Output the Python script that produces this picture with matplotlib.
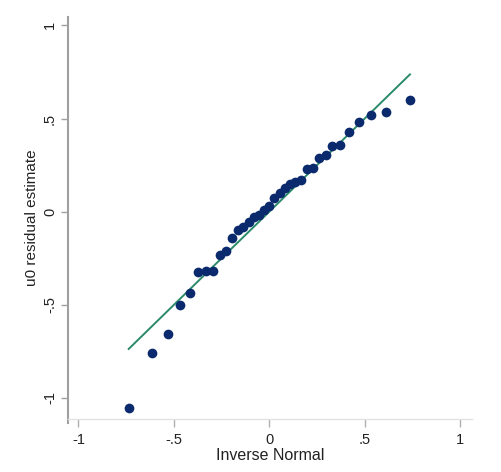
import matplotlib
matplotlib.use('Agg')
from matplotlib import pyplot as plt

# inverse normal (x) and sorted u0 residual estimates (y)
inv_normal = [-0.737, -0.613, -0.532, -0.470, -0.418, -0.372, -0.331, -0.295,
              -0.259, -0.227, -0.196, -0.166, -0.137, -0.109, -0.081, -0.054,
              -0.027, 0.0, 0.027, 0.054, 0.081, 0.109, 0.137, 0.166, 0.196,
              0.227, 0.259, 0.295, 0.331, 0.372, 0.418, 0.470, 0.532, 0.613,
              0.737]
u0_resid = [-1.052, -0.758, -0.656, -0.501, -0.436, -0.324, -0.317, -0.318,
            -0.232, -0.211, -0.141, -0.098, -0.080, -0.055, -0.027, -0.018,
            0.009, 0.031, 0.074, 0.099, 0.127, 0.149, 0.159, 0.170, 0.229,
            0.235, 0.287, 0.304, 0.350, 0.358, 0.426, 0.483, 0.519, 0.537,
            0.600]

ticks = [-1, -0.5, 0, 0.5, 1]
tick_labels = ['-1', '-.5', '0', '.5', '1']

plt.rcParams['font.family'] = ['Liberation Sans', 'DejaVu Sans']


def report():
    fig = plt.figure(figsize=(5.01, 4.72), dpi=100)
    ax = fig.add_axes([68 / 501, 53 / 472, 404 / 501, 402 / 472])

    ax.plot(inv_normal, u0_resid, 'o', color='#0b2a6e', markersize=7,
            markeredgewidth=0, zorder=3)
    # reference line: inverse normal against itself
    ax.plot([inv_normal[0], inv_normal[-1]], [inv_normal[0], inv_normal[-1]],
            color='#2a8a6a', linewidth=1.4, zorder=2)

    ax.set_xlim(-1.055, 1.062)
    ax.set_ylim(-1.113, 1.045)

    ax.set_xticks(ticks)
    ax.set_xticklabels(tick_labels, fontsize=10.5, color='#222222')
    ax.set_yticks(ticks)
    ax.set_yticklabels(tick_labels, fontsize=10.5, color='#222222',
                       rotation=90, va='center')

    for side in ['top', 'right']:
        ax.spines[side].set_visible(False)
    ax.spines['left'].set_color('#a0a0a0')
    ax.spines['left'].set_linewidth(1.5)
    ax.spines['left'].set_bounds(-1.135, 1.045)
    ax.spines['bottom'].set_color('#e2e2e2')
    ax.spines['bottom'].set_linewidth(1.0)

    ax.tick_params(axis='y', length=5, width=1, color='#a0a0a0', pad=3)
    ax.tick_params(axis='x', length=6, width=1, color='#b0b0b0', pad=4)

    ax.set_xlabel('Inverse Normal', fontsize=11.5, color='#222222', labelpad=1)
    ax.set_ylabel('u0 residual estimate', fontsize=11, color='#222222',
                  labelpad=3)
    ax.spines['left'].set_clip_on(False)

    fig.savefig('out.png', dpi=100)


if __name__ == "__main__":
    report()
